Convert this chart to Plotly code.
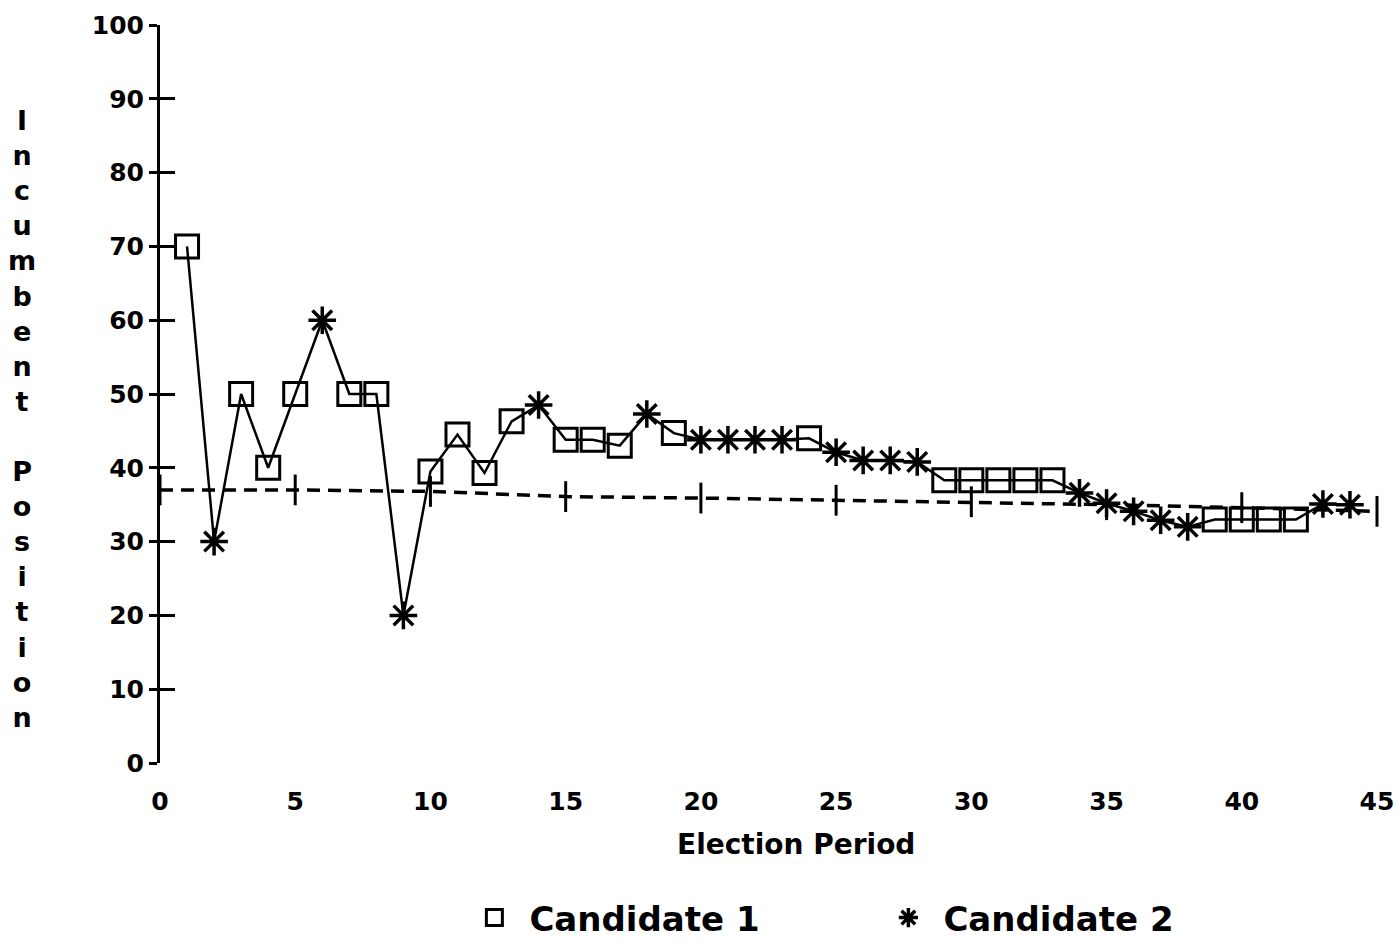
import plotly.graph_objects as go

# ---- data ----
periods = list(range(1, 45))
positions = [70, 30, 50, 40, 50, 60, 50, 50, 20, 39.5,
             44.5, 39.3, 46.3, 48.5, 43.8, 43.8, 43.0, 47.3, 44.7, 43.8,
             43.8, 43.8, 43.8, 44.0, 42.1, 41.0, 41.0, 40.8, 38.3, 38.3,
             38.3, 38.3, 38.3, 36.6, 35.2, 34.1, 32.9, 32.0, 33.0, 33.0,
             33.0, 33.0, 35.1, 35.0]
winners = [1, 2, 1, 1, 1, 2, 1, 1, 2, 1,
           1, 1, 1, 2, 1, 1, 1, 2, 1, 2,
           2, 2, 2, 1, 2, 2, 2, 2, 1, 1,
           1, 1, 1, 2, 2, 2, 2, 2, 1, 1,
           1, 1, 2, 2]
ref_x = [0, 5, 10, 15, 20, 25, 30, 35, 40, 45]
ref_y = [37.0, 37.0, 36.8, 36.1, 35.9, 35.6, 35.4, 35.0, 34.6, 34.1]
x_ticks = [0, 5, 10, 15, 20, 25, 30, 35, 40, 45]
y_ticks = [0, 10, 20, 30, 40, 50, 60, 70, 80, 90, 100]

FONT = "DejaVu Sans"

c1_x = [p for p, w in zip(periods, winners) if w == 1]
c1_y = [v for v, w in zip(positions, winners) if w == 1]
c2_x = [p for p, w in zip(periods, winners) if w == 2]
c2_y = [v for v, w in zip(positions, winners) if w == 2]

fig = go.Figure()

# dashed reference line with vertical tick marks
fig.add_trace(go.Scatter(
    x=ref_x, y=ref_y, mode="lines+markers", showlegend=False,
    line=dict(color="black", width=3.5, dash="13px,8px"),
    marker=dict(symbol="line-ns-open", size=22, line=dict(color="black", width=3)),
    cliponaxis=False,
))

# solid connecting line
fig.add_trace(go.Scatter(
    x=periods, y=positions, mode="lines", showlegend=False,
    line=dict(color="black", width=2.5), cliponaxis=False,
))

fig.add_trace(go.Scatter(
    x=c1_x, y=c1_y, mode="markers", name="Candidate 1",
    marker=dict(symbol="square-open", size=23, color="black",
                line=dict(color="black", width=3)),
    cliponaxis=False,
))
fig.add_trace(go.Scatter(
    x=c2_x, y=c2_y, mode="markers", name="Candidate 2",
    marker=dict(symbol="asterisk-open", size=23, color="black",
                line=dict(color="black", width=3.5)),
    cliponaxis=False,
))

# invisible trace to anchor the overlay y axis
fig.add_trace(go.Scatter(x=[None], y=[None], yaxis="y2", showlegend=False))

fig.update_layout(
    width=1399, height=942,
    margin=dict(l=160, r=22, t=25, b=179, autoexpand=False),
    paper_bgcolor="white", plot_bgcolor="white",
    font=dict(family=FONT, color="black", weight="bold"),
    xaxis=dict(
        range=[0, 45], tickvals=x_ticks, ticktext=[str(t) for t in x_ticks],
        showline=False, showgrid=False, zeroline=False, ticks="",
        tickfont=dict(size=25, family=FONT, weight="bold"),
        ticklabelstandoff=21,
    ),
    yaxis=dict(
        range=[0, 100], tickvals=y_ticks, ticktext=[str(t) for t in y_ticks],
        showline=True, linecolor="black", linewidth=3,
        showgrid=False, zeroline=False,
        ticks="outside", ticklen=8, tickwidth=3, tickcolor="black",
        tickfont=dict(size=25, family=FONT, weight="bold"),
        ticklabelstandoff=0,
    ),
    yaxis2=dict(
        range=[0, 100], tickvals=y_ticks, overlaying="y", side="left",
        anchor="x", showline=False, showgrid=False, zeroline=False,
        ticks="inside", ticklen=15, tickwidth=3, tickcolor="black",
        showticklabels=False,
    ),
    legend=dict(
        orientation="h", x=0.246, y=-0.21, xanchor="left", yanchor="middle",
        font=dict(size=34, family=FONT, weight="bold"),
        itemwidth=60, entrywidth=339, entrywidthmode="pixels",
        bgcolor="rgba(0,0,0,0)",
    ),
    annotations=[
        dict(text="Election Period", xref="x", yref="paper", x=23.5, y=-0.11,
             xanchor="center", yanchor="middle", showarrow=False,
             font=dict(size=28, family=FONT, weight="bold")),
        dict(text="<br>".join(list("Incumbent Position")),
             xref="paper", yref="paper", x=-0.113, y=0.466,
             xanchor="center", yanchor="middle", showarrow=False, align="center",
             font=dict(size=27, family=FONT, weight="bold")),
    ],
)

fig.write_html("out.html")
